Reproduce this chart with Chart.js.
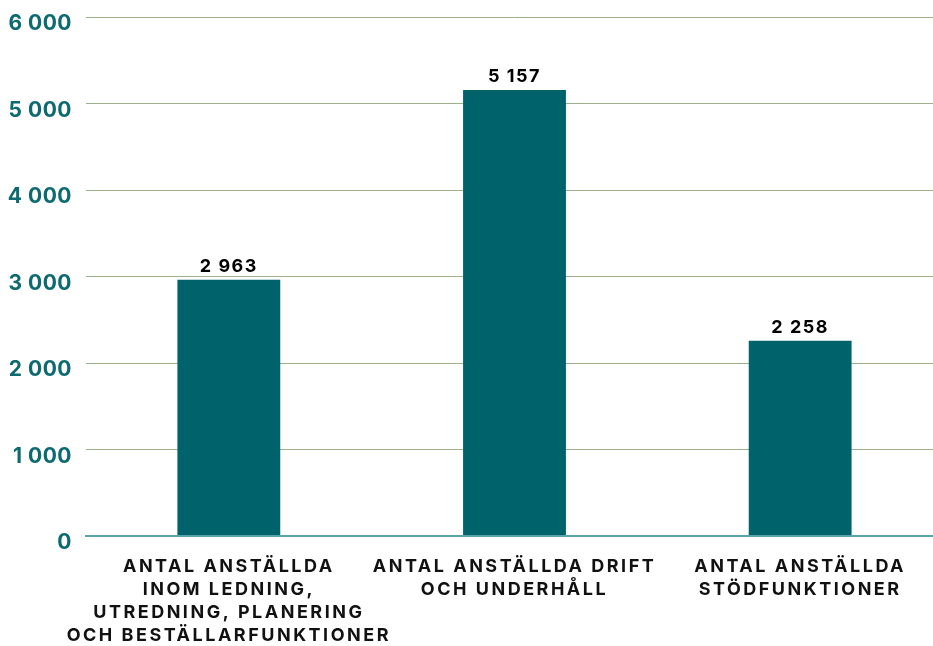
<!DOCTYPE html>
<html>
<head>
<meta charset="utf-8">
<script src="https://cdn.jsdelivr.net/npm/chart.js@4"></script>
<style>
  html, body { margin: 0; padding: 0; background: #fff; overflow: hidden; }
  #wrap { width: 943px; height: 646px; position: relative; }
</style>
</head>
<body>
<div id="wrap"><canvas id="staffChart"></canvas></div>
<script>
// categories and values
const categories = [
  ['ANTAL ANSTÄLLDA', 'INOM LEDNING,', 'UTREDNING, PLANERING', 'OCH BESTÄLLARFUNKTIONER'],
  ['ANTAL ANSTÄLLDA DRIFT', 'OCH UNDERHÅLL'],
  ['ANTAL ANSTÄLLDA', 'STÖDFUNKTIONER']
];
const employees = [2963, 5157, 2258];
const yTicks = [0, 1000, 2000, 3000, 4000, 5000, 6000];

const fmt = v => String(v).replace(/\B(?=(\d{3})+(?!\d))/g, ' ');

// value labels above bars
const valueLabels = {
  id: 'valueLabels',
  afterDatasetsDraw(chart) {
    const ctx = chart.ctx;
    const meta = chart.getDatasetMeta(0);
    ctx.save();
    ctx.letterSpacing = '1.5px';
    ctx.font = 'bold 18px Inter, sans-serif';
    ctx.fillStyle = '#000';
    ctx.textAlign = 'center';
    ctx.textBaseline = 'alphabetic';
    meta.data.forEach((bar, i) => {
      ctx.fillText(fmt(employees[i]), bar.x, bar.y - 8);
    });
    ctx.restore();
  }
};

// letter spacing per axis labels
const spacing = {
  id: 'spacing',
  beforeDraw(chart) {
    const set = { x: '2.5px', y: '0.5px' };
    Object.keys(set).forEach(id => {
      const sc = chart.scales[id];
      if (sc._wrapped) return;
      const orig = sc.drawLabels.bind(sc);
      sc.drawLabels = function (area) {
        const ctx = chart.ctx;
        const prev = ctx.letterSpacing;
        ctx.letterSpacing = set[id];
        orig(area);
        ctx.letterSpacing = prev;
      };
      sc._wrapped = true;
    });
  }
};

new Chart(document.getElementById('staffChart'), {
  type: 'bar',
  data: {
    labels: categories,
    datasets: [{
      data: employees,
      backgroundColor: '#00626a',
      barPercentage: 0.36,
      categoryPercentage: 1
    }]
  },
  options: {
    responsive: true,
    maintainAspectRatio: false,
    animation: false,
    layout: { padding: { top: 17, left: 0, right: 0, bottom: 0 } },
    plugins: { legend: { display: false }, tooltip: { enabled: false } },
    scales: {
      x: {
        afterFit(axis) { axis.height = 110; },
        grid: { display: false, drawTicks: false },
        border: { color: '#5ba3aa', width: 2 },
        ticks: {
          color: '#111',
          font: { family: 'Inter, sans-serif', size: 18, weight: 'bold', lineHeight: 1.28 },
          padding: 19,
          maxRotation: 0,
          autoSkip: false
        }
      },
      y: {
        min: 0,
        max: 6000,
        afterBuildTicks(axis) { axis.ticks = yTicks.map(v => ({ value: v })); },
        afterFit(axis) {
          axis.width = 86;
          axis.paddingTop = 0;
          axis.paddingBottom = 0;
        },
        grid: {
          drawTicks: false,
          color: ctx => ctx.tick && ctx.tick.value === 0 ? '#5ba3aa' : '#9db28a',
          lineWidth: ctx => ctx.tick && ctx.tick.value === 0 ? 2 : 1
        },
        border: { display: false },
        ticks: {
          color: '#0d6a70',
          font: { family: 'Inter, sans-serif', size: 21, weight: 'bold' },
          padding: 14,
          labelOffset: 7,
          callback: v => fmt(v)
        }
      }
    }
  },
  plugins: [spacing, valueLabels]
});
</script>
</body>
</html>
